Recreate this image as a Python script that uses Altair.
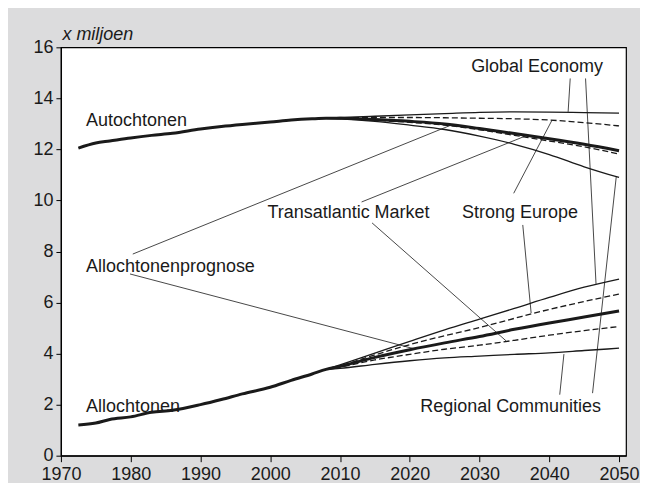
import altair as alt
import pandas as pd

# ---- data ----
hist_years = [1972.5, 1975, 1977, 1980, 1983, 1986, 1990, 1993, 1996, 2000, 2003, 2006, 2008]
auto_hist = [12.05, 12.25, 12.33, 12.45, 12.55, 12.63, 12.8, 12.9, 12.98, 13.07, 13.15, 13.2, 13.22]
allo_hist = [1.2, 1.28, 1.42, 1.52, 1.7, 1.78, 2.0, 2.2, 2.42, 2.68, 2.95, 3.2, 3.38]

scen_years = [2008, 2010, 2015, 2020, 2025, 2030, 2035, 2040, 2045, 2050]
auto_prognose = [13.22, 13.22, 13.17, 13.1, 13.0, 12.82, 12.62, 12.42, 12.2, 11.95]
auto_ge = [13.22, 13.25, 13.3, 13.35, 13.4, 13.45, 13.47, 13.46, 13.44, 13.42]
auto_se = [13.22, 13.23, 13.25, 13.25, 13.24, 13.22, 13.2, 13.15, 13.05, 12.92]
auto_tm = [13.22, 13.21, 13.14, 13.06, 12.95, 12.77, 12.55, 12.33, 12.1, 11.82]
auto_rc = [13.22, 13.2, 13.1, 12.95, 12.78, 12.52, 12.2, 11.8, 11.32, 10.9]

allo_prognose = [3.38, 3.5, 3.85, 4.15, 4.42, 4.67, 4.95, 5.2, 5.43, 5.67]
allo_ge = [3.38, 3.56, 4.02, 4.48, 4.93, 5.35, 5.77, 6.2, 6.6, 6.92]
allo_se = [3.38, 3.52, 3.95, 4.35, 4.7, 5.02, 5.38, 5.73, 6.04, 6.33]
allo_tm = [3.38, 3.47, 3.75, 3.97, 4.17, 4.33, 4.52, 4.72, 4.9, 5.06]
allo_rc = [3.38, 3.42, 3.58, 3.72, 3.83, 3.9, 3.97, 4.03, 4.12, 4.21]

labels = ["Autochtonen", "Allochtonenprognose", "Allochtonen", "Transatlantic Market",
          "Strong Europe", "Global Economy", "Regional Communities"]
label_x = [1973.6, 1973.6, 1973.6, 1999.6, 2027.5, 2028.8, 2021.5]
label_y = [12.91, 7.2, 1.7, 9.31, 9.31, 15.03, 1.7]

# callout lines: start (label side) -> end (curve)
call_x1 = [1980.3, 1979.9, 2013.1, 2014.6, 2034.9, 2036.2, 2043.0, 2045.2, 2046.2, 2041.5]
call_y1 = [7.90, 7.12, 9.94, 9.12, 10.28, 9.04, 14.78, 14.78, 2.45, 2.39]
call_x2 = [2025.9, 2020.6, 2036.9, 2033.8, 2040.4, 2037.4, 2042.7, 2046.7, 2049.6, 2042.1]
call_y2 = [12.95, 4.19, 12.56, 4.50, 13.15, 5.59, 13.47, 6.73, 10.93, 3.98]

x_ticks = [1970, 1980, 1990, 2000, 2010, 2020, 2030, 2040, 2050]
y_ticks = [0, 2, 4, 6, 8, 10, 12, 14, 16]

# ---- tables ----
thick_rows = []
for yr, v in zip(hist_years[:-1] + scen_years, auto_hist[:-1] + auto_prognose):
    thick_rows.append({"year": yr, "value": v, "series": "auto"})
for yr, v in zip(hist_years[:-1] + scen_years, allo_hist[:-1] + allo_prognose):
    thick_rows.append({"year": yr, "value": v, "series": "allo"})
thick_df = pd.DataFrame(thick_rows)

solid_rows, dash_rows = [], []
for name, vals in [("auto_ge", auto_ge), ("auto_rc", auto_rc), ("allo_ge", allo_ge), ("allo_rc", allo_rc)]:
    for yr, v in zip(scen_years, vals):
        solid_rows.append({"year": yr, "value": v, "series": name})
for name, vals in [("auto_se", auto_se), ("auto_tm", auto_tm), ("allo_se", allo_se), ("allo_tm", allo_tm)]:
    for yr, v in zip(scen_years, vals):
        dash_rows.append({"year": yr, "value": v, "series": name})
solid_df = pd.DataFrame(solid_rows)
dash_df = pd.DataFrame(dash_rows)

label_df = pd.DataFrame({"label": labels, "year": label_x, "value": label_y})
call_df = pd.DataFrame({"year": call_x1, "value": call_y1, "year2": call_x2, "value2": call_y2})

FONT = "Liberation Sans"
INK = "#1a1a1a"

x_enc = alt.X("year:Q",
              scale=alt.Scale(domain=[1970, 2051], nice=False, zero=False),
              axis=alt.Axis(values=x_ticks, format="d", title=None, labelFlush=False,
                            labelOverlap=False, tickSize=6, labelPadding=4))
y_enc = alt.Y("value:Q",
              scale=alt.Scale(domain=[0, 16], nice=False),
              axis=alt.Axis(values=y_ticks, title="x miljoen", titleAngle=0, titleAlign="left",
                            titleBaseline="alphabetic", titleX=1, titleY=-8,
                            titleFontStyle="italic", titleFontWeight="normal", titleFontSize=18,
                            titleFont=FONT, titleColor=INK, tickSize=5, labelPadding=3))

thick = alt.Chart(thick_df).mark_line(color=INK, strokeWidth=3, interpolate="monotone").encode(
    x=x_enc, y=y_enc, detail="series:N")
solid = alt.Chart(solid_df).mark_line(color=INK, strokeWidth=1.3, interpolate="monotone").encode(
    x=x_enc, y=y_enc, detail="series:N")
dashed = alt.Chart(dash_df).mark_line(color=INK, strokeWidth=1.3, strokeDash=[6, 3],
                                      interpolate="monotone").encode(
    x=x_enc, y=y_enc, detail="series:N")
callouts = alt.Chart(call_df).mark_rule(color="#333333", strokeWidth=0.9).encode(
    x=x_enc, y=y_enc, x2="year2:Q", y2="value2:Q")
texts = alt.Chart(label_df).mark_text(align="left", baseline="alphabetic", fontSize=18,
                                      font=FONT, color=INK).encode(
    x=x_enc, y=y_enc, text="label:N")

chart = alt.layer(callouts, solid, dashed, thick, texts).properties(
    width=566, height=409,
    autosize=alt.AutoSizeParams(type="none"),
    padding={"left": 53, "top": 39, "right": 14, "bottom": 34},
    background="#dcdcdd",
).configure_view(
    fill="white", stroke="black", strokeWidth=1.2
).configure_axis(
    grid=False, domainColor="black", tickColor="black", labelColor=INK,
    labelFont=FONT, labelFontSize=18, domainWidth=1.2, tickWidth=1
)

chart.save("out.html", embed_options={"renderer": "svg", "actions": False})
